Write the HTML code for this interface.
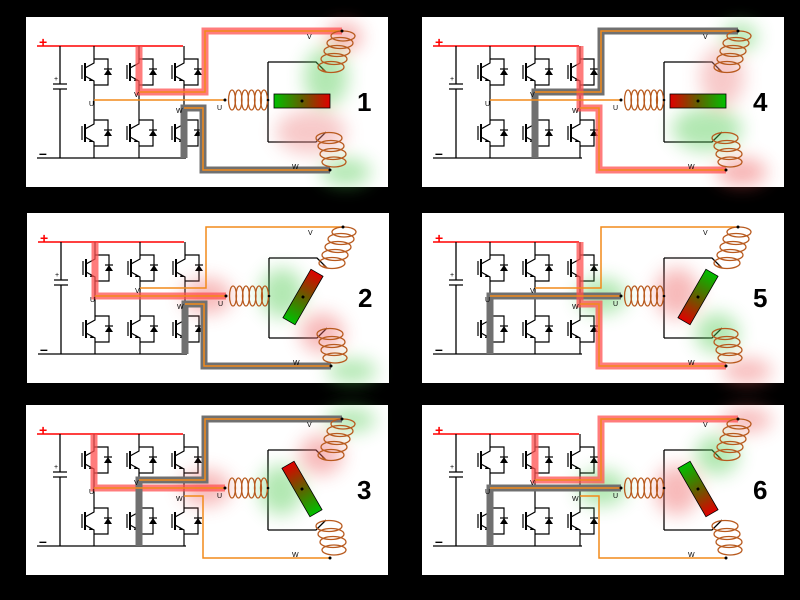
<!DOCTYPE html>
<html><head><meta charset="utf-8"><style>
html,body{margin:0;padding:0;background:#000;}
svg{display:block}
text{font-family:"Liberation Sans",sans-serif;}
</style></head><body>
<svg width="800" height="600" viewBox="0 0 800 600" xmlns="http://www.w3.org/2000/svg">
<defs>
<filter id="bl" x="-50%" y="-50%" width="200%" height="200%"><feGaussianBlur stdDeviation="9"/></filter>
<linearGradient id="rg" x1="0" x2="1" y1="0" y2="0"><stop offset="0" stop-color="#00c000"/><stop offset="0.5" stop-color="#606000"/><stop offset="1" stop-color="#e00000"/></linearGradient>
<g id="tr">
<path d="M0,-17V-9L-9,-4M-9,4L0,9V17" fill="none" stroke="#000" stroke-width="1.2"/>
<path d="M-9,-9V9" stroke="#000" stroke-width="2"/>
<path d="M-12,-7V7" stroke="#000" stroke-width="1.2"/>
<path d="M-4,6L-1,9L-5,9Z" fill="#000"/>
<path d="M0,-13H14V13H0" fill="none" stroke="#000" stroke-width="1.2"/>
<path d="M10,3H18L14,-3Z" fill="#000"/><path d="M10,-3H18" stroke="#000" stroke-width="1.2"/>
</g>
<g id="coilH" fill="none" stroke="#b85a1e" stroke-width="1.3">
<ellipse cx="206" cy="83" rx="3.5" ry="10"/><ellipse cx="212.5" cy="83" rx="3.5" ry="10"/><ellipse cx="219" cy="83" rx="3.5" ry="10"/><ellipse cx="225.5" cy="83" rx="3.5" ry="10"/><ellipse cx="232" cy="83" rx="3.5" ry="10"/><ellipse cx="238" cy="83" rx="3.5" ry="10"/>
</g>
<g id="coilV" fill="none" stroke="#b85a1e" stroke-width="1.3">
<ellipse cx="305" cy="50" rx="13" ry="5.5"/><ellipse cx="308" cy="42" rx="13" ry="5.5"/><ellipse cx="311" cy="34" rx="13" ry="5.5"/><ellipse cx="314" cy="26" rx="13" ry="5.5"/><ellipse cx="317" cy="19" rx="12" ry="5"/>
<path d="M300,55L296,52"/>
</g>
<g id="coilW" fill="none" stroke="#b85a1e" stroke-width="1.3">
<ellipse cx="303" cy="121" rx="13" ry="5.5"/><ellipse cx="305" cy="129" rx="13" ry="5.5"/><ellipse cx="307" cy="137" rx="13" ry="5.5"/><ellipse cx="308" cy="145" rx="12" ry="5"/>
</g>
<g id="base">
<rect x="0" y="0" width="362" height="170" fill="#fff"/>
<path d="M11,29H157" stroke="#f00" stroke-width="1.5"/>
<path d="M11,141H160" stroke="#000" stroke-width="1.3"/>
<path d="M34,29V67M34,72V141M27,67H41M27,72H41" stroke="#000" stroke-width="1.3" fill="none"/>
<path d="M68,29V38M68,72V99M68,133V141M113,29V38M113,72V99M113,133V141M158,29V38M158,72V99M158,133V141" stroke="#000" stroke-width="1.2"/>
<use href="#tr" x="68" y="55"/><use href="#tr" x="113" y="55"/><use href="#tr" x="158" y="55"/>
<use href="#tr" x="68" y="116"/><use href="#tr" x="113" y="116"/><use href="#tr" x="158" y="116"/>
<path d="M242,45V125M242,45H290L300,55M242,125H290L300,115" fill="none" stroke="#000" stroke-width="1.3"/>
</g>
<g id="wires" fill="none" stroke="#f28a1a" stroke-width="1.5">
<path d="M68,83H199"/><path d="M113,75H179V14H316"/><path d="M158,91H177V153H304"/>
</g>
<g id="dots" fill="#000"><circle cx="199" cy="83" r="1.5"/><circle cx="316" cy="14" r="1.5"/><circle cx="304" cy="153" r="1.5"/><circle cx="242" cy="83" r="1.3"/></g>
</defs>

<!-- P1 -->
<g transform="translate(26,17)">
<use href="#base"/>
<g filter="url(#bl)" opacity="0.45"><ellipse cx="300" cy="60" rx="22" ry="30" fill="#5c5"/><ellipse cx="318" cy="20" rx="18" ry="14" fill="#e55"/><ellipse cx="285" cy="115" rx="35" ry="22" fill="#e88"/><ellipse cx="320" cy="155" rx="25" ry="14" fill="#5c5"/></g>
<path d="M113,29V75H179V14H316" fill="none" stroke="#ff5050" stroke-opacity="0.75" stroke-width="7"/>
<path d="M158,141V91H177V153H304" fill="none" stroke="#707070" stroke-width="7"/>
<use href="#wires"/><use href="#coilH"/><use href="#coilV"/><use href="#coilW"/><use href="#dots"/>
<g transform="translate(276,84) rotate(0)"><rect x="-28" y="-7" width="56" height="14" fill="url(#rg)" stroke="#000" stroke-width="0.8"/><circle r="1.5" fill="#000"/></g>
<text x="13" y="30" font-size="14" font-weight="bold" fill="#f00">+</text><text x="13" y="141" font-size="14" font-weight="bold">–</text><text x="28" y="64" font-size="7">+</text>
<text x="63" y="89" font-size="7">U</text><text x="108" y="80" font-size="7">V</text><text x="150" y="96" font-size="7">W</text><text x="191" y="93" font-size="7">U</text><text x="281" y="22" font-size="7">V</text><text x="266" y="152" font-size="7">W</text>
<text x="331" y="94" font-size="26" font-weight="bold">1</text>
</g>
<!-- P4 -->
<g transform="translate(422,17)">
<use href="#base"/>
<g filter="url(#bl)" opacity="0.45"><ellipse cx="300" cy="60" rx="22" ry="30" fill="#e88"/><ellipse cx="318" cy="20" rx="18" ry="14" fill="#5c5"/><ellipse cx="285" cy="112" rx="35" ry="22" fill="#5c5"/><ellipse cx="320" cy="155" rx="25" ry="14" fill="#e55"/></g>
<path d="M113,141V75H179V14H316" fill="none" stroke="#707070" stroke-width="7"/>
<path d="M158,29V91H177V153H304" fill="none" stroke="#ff5050" stroke-opacity="0.75" stroke-width="7"/>
<use href="#wires"/><use href="#coilH"/><use href="#coilV"/><use href="#coilW"/><use href="#dots"/>
<g transform="translate(276,84) rotate(180)"><rect x="-28" y="-7" width="56" height="14" fill="url(#rg)" stroke="#000" stroke-width="0.8"/><circle r="1.5" fill="#000"/></g>
<text x="13" y="30" font-size="14" font-weight="bold" fill="#f00">+</text><text x="13" y="141" font-size="14" font-weight="bold">–</text><text x="28" y="64" font-size="7">+</text>
<text x="63" y="89" font-size="7">U</text><text x="108" y="80" font-size="7">V</text><text x="150" y="96" font-size="7">W</text><text x="191" y="93" font-size="7">U</text><text x="281" y="22" font-size="7">V</text><text x="266" y="152" font-size="7">W</text>
<text x="331" y="94" font-size="26" font-weight="bold">4</text>
</g>
<!-- P2 -->
<g transform="translate(27,213)">
<use href="#base"/>
<g filter="url(#bl)" opacity="0.45"><ellipse cx="180" cy="83" rx="25" ry="18" fill="#e66"/><ellipse cx="255" cy="80" rx="22" ry="25" fill="#5c5"/><ellipse cx="295" cy="120" rx="22" ry="20" fill="#e66"/><ellipse cx="325" cy="158" rx="25" ry="12" fill="#5c5"/></g>
<path d="M68,29V83H199" fill="none" stroke="#ff5050" stroke-opacity="0.75" stroke-width="7"/>
<path d="M158,141V91H177V153H304" fill="none" stroke="#707070" stroke-width="7"/>
<use href="#wires"/><use href="#coilH"/><use href="#coilV"/><use href="#coilW"/><use href="#dots"/>
<g transform="translate(276,84) rotate(-60)"><rect x="-28" y="-7" width="56" height="14" fill="url(#rg)" stroke="#000" stroke-width="0.8"/><circle r="1.5" fill="#000"/></g>
<text x="13" y="30" font-size="14" font-weight="bold" fill="#f00">+</text><text x="13" y="141" font-size="14" font-weight="bold">–</text><text x="28" y="64" font-size="7">+</text>
<text x="63" y="89" font-size="7">U</text><text x="108" y="80" font-size="7">V</text><text x="150" y="96" font-size="7">W</text><text x="191" y="93" font-size="7">U</text><text x="281" y="22" font-size="7">V</text><text x="266" y="152" font-size="7">W</text>
<text x="331" y="94" font-size="26" font-weight="bold">2</text>
</g>
<!-- P5 -->
<g transform="translate(422,213)">
<use href="#base"/>
<g filter="url(#bl)" opacity="0.45"><ellipse cx="180" cy="83" rx="25" ry="18" fill="#5c5"/><ellipse cx="255" cy="80" rx="22" ry="25" fill="#e66"/><ellipse cx="295" cy="120" rx="22" ry="20" fill="#5c5"/><ellipse cx="325" cy="158" rx="25" ry="12" fill="#e66"/></g>
<path d="M68,141V83H199" fill="none" stroke="#707070" stroke-width="7"/>
<path d="M158,29V91H177V153H304" fill="none" stroke="#ff5050" stroke-opacity="0.75" stroke-width="7"/>
<use href="#wires"/><use href="#coilH"/><use href="#coilV"/><use href="#coilW"/><use href="#dots"/>
<g transform="translate(276,84) rotate(120)"><rect x="-28" y="-7" width="56" height="14" fill="url(#rg)" stroke="#000" stroke-width="0.8"/><circle r="1.5" fill="#000"/></g>
<text x="13" y="30" font-size="14" font-weight="bold" fill="#f00">+</text><text x="13" y="141" font-size="14" font-weight="bold">–</text><text x="28" y="64" font-size="7">+</text>
<text x="63" y="89" font-size="7">U</text><text x="108" y="80" font-size="7">V</text><text x="150" y="96" font-size="7">W</text><text x="191" y="93" font-size="7">U</text><text x="281" y="22" font-size="7">V</text><text x="266" y="152" font-size="7">W</text>
<text x="331" y="94" font-size="26" font-weight="bold">5</text>
</g>
<!-- P3 -->
<g transform="translate(26,405)">
<use href="#base"/>
<g filter="url(#bl)" opacity="0.45"><ellipse cx="180" cy="83" rx="25" ry="18" fill="#e66"/><ellipse cx="255" cy="85" rx="22" ry="25" fill="#5c5"/><ellipse cx="295" cy="50" rx="22" ry="20" fill="#e66"/><ellipse cx="325" cy="15" rx="25" ry="12" fill="#5c5"/></g>
<path d="M68,29V83H199" fill="none" stroke="#ff5050" stroke-opacity="0.75" stroke-width="7"/>
<path d="M113,141V75H179V14H316" fill="none" stroke="#707070" stroke-width="7"/>
<use href="#wires"/><use href="#coilH"/><use href="#coilV"/><use href="#coilW"/><use href="#dots"/>
<g transform="translate(276,84) rotate(-120)"><rect x="-28" y="-7" width="56" height="14" fill="url(#rg)" stroke="#000" stroke-width="0.8"/><circle r="1.5" fill="#000"/></g>
<text x="13" y="30" font-size="14" font-weight="bold" fill="#f00">+</text><text x="13" y="141" font-size="14" font-weight="bold">–</text><text x="28" y="64" font-size="7">+</text>
<text x="63" y="89" font-size="7">U</text><text x="108" y="80" font-size="7">V</text><text x="150" y="96" font-size="7">W</text><text x="191" y="93" font-size="7">U</text><text x="281" y="22" font-size="7">V</text><text x="266" y="152" font-size="7">W</text>
<text x="331" y="94" font-size="26" font-weight="bold">3</text>
</g>
<!-- P6 -->
<g transform="translate(422,405)">
<use href="#base"/>
<g filter="url(#bl)" opacity="0.45"><ellipse cx="180" cy="83" rx="25" ry="18" fill="#5c5"/><ellipse cx="255" cy="85" rx="22" ry="25" fill="#e66"/><ellipse cx="295" cy="50" rx="22" ry="20" fill="#5c5"/><ellipse cx="325" cy="15" rx="25" ry="12" fill="#e66"/></g>
<path d="M68,141V83H199" fill="none" stroke="#707070" stroke-width="7"/>
<path d="M113,29V75H179V14H316" fill="none" stroke="#ff5050" stroke-opacity="0.75" stroke-width="7"/>
<use href="#wires"/><use href="#coilH"/><use href="#coilV"/><use href="#coilW"/><use href="#dots"/>
<g transform="translate(276,84) rotate(60)"><rect x="-28" y="-7" width="56" height="14" fill="url(#rg)" stroke="#000" stroke-width="0.8"/><circle r="1.5" fill="#000"/></g>
<text x="13" y="30" font-size="14" font-weight="bold" fill="#f00">+</text><text x="13" y="141" font-size="14" font-weight="bold">–</text><text x="28" y="64" font-size="7">+</text>
<text x="63" y="89" font-size="7">U</text><text x="108" y="80" font-size="7">V</text><text x="150" y="96" font-size="7">W</text><text x="191" y="93" font-size="7">U</text><text x="281" y="22" font-size="7">V</text><text x="266" y="152" font-size="7">W</text>
<text x="331" y="94" font-size="26" font-weight="bold">6</text>
</g>
</svg>
</body></html>
